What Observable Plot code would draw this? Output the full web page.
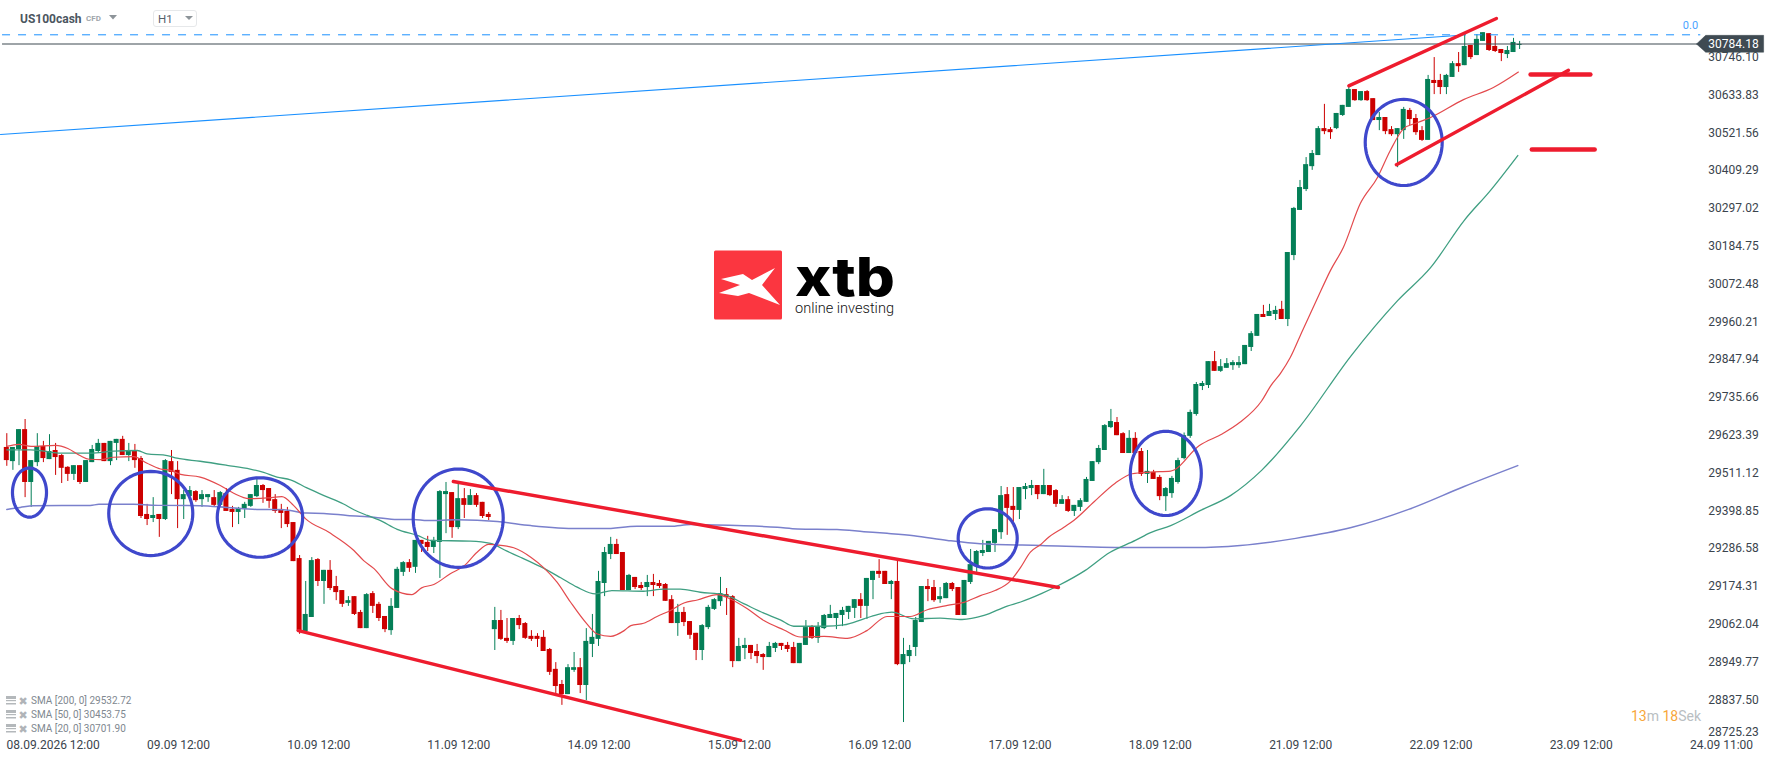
<!DOCTYPE html>
<html><head><meta charset="utf-8">
<script src="https://cdn.jsdelivr.net/npm/d3@7"></script>
<script src="https://cdn.jsdelivr.net/npm/@observablehq/plot@0.6"></script>
<style>
html,body{margin:0;padding:0;background:#fff;font-family:Roboto,sans-serif}
#wrap{position:relative;width:1768px;height:761px;overflow:hidden}
#wrap svg.plot{display:block}
.ov{position:absolute;white-space:nowrap;line-height:1}
.leg{font-size:10px;color:#808890;left:31px}
</style></head><body>
<div id="wrap">
<div class="ov" style="left:20px;top:13px;font-size:12px;font-weight:700;color:#4b5660">US100cash</div>
<div class="ov" style="left:86px;top:15px;font-size:8px;font-weight:700;color:#a0a6ab">CFD</div>
<div class="ov" style="left:153px;top:10px;width:42px;height:15px;border:1px solid #e6e8ea;border-radius:3px"></div>
<div class="ov" style="left:158px;top:14px;font-size:11.5px;color:#56606a">H1</div>
<svg class="ov" style="left:0;top:0" width="1768" height="761" id="deco"></svg>
<div class="ov leg" style="top:696px">SMA [200, 0] 29532.72</div>
<div class="ov leg" style="top:710px">SMA [50, 0] 30453.75</div>
<div class="ov leg" style="top:724px">SMA [20, 0] 30701.90</div>
<div class="ov" style="left:1631px;top:709px;font-size:14px;color:#b9bec2"><span style="color:#f7a63a">13</span>m <span style="color:#f7a63a">18</span>Sek</div>
</div>
<script>
// open, high, low, close per hourly bar
const candles=[
[29587,29628,29531,29548],[29545,29587,29519,29587],[29581,29640,29533,29640],[29640,29670,29438,29483],[29483,29548,29409,29548],
[29542,29628,29530,29590],[29590,29605,29542,29554],[29551,29625,29551,29575],[29578,29599,29504,29557],[29563,29566,29480,29525],
[29528,29530,29486,29507],[29507,29533,29489,29533],[29533,29533,29477,29483],[29483,29548,29483,29548],[29542,29593,29542,29581],
[29575,29611,29569,29599],[29599,29599,29545,29545],[29545,29605,29533,29605],[29599,29611,29548,29611],[29611,29620,29563,29563],
[29563,29599,29545,29578],[29575,29596,29525,29548],[29554,29560,29376,29382],[29388,29418,29355,29373],[29376,29438,29364,29385],
[29388,29388,29320,29373],[29373,29551,29370,29548],[29545,29578,29447,29513],[29519,29545,29346,29432],[29432,29459,29373,29447],
[29441,29471,29441,29459],[29456,29459,29424,29429],[29432,29459,29409,29447],[29438,29447,29424,29447],[29438,29459,29409,29415],
[29415,29456,29412,29453],[29450,29465,29397,29397],[29403,29412,29349,29394],[29394,29409,29358,29406],[29403,29424,29376,29418],
[29412,29447,29409,29447],[29441,29498,29438,29474],[29474,29477,29421,29459],[29465,29465,29406,29427],[29432,29447,29391,29397],
[29403,29418,29346,29391],[29397,29409,29349,29358],[29364,29364,29248,29248],[29257,29266,29032,29040],[29040,29189,29032,29091],
[29082,29260,29082,29251],[29254,29257,29174,29189],[29189,29222,29121,29222],[29222,29251,29162,29168],[29174,29204,29132,29156],
[29162,29162,29112,29121],[29124,29144,29115,29132],[29144,29144,29088,29091],[29097,29103,29049,29049],[29049,29153,29049,29150],
[29153,29159,29094,29115],[29121,29127,29070,29079],[29085,29085,29037,29046],[29043,29138,29029,29115],[29109,29231,29109,29225],
[29216,29248,29204,29245],[29245,29254,29216,29228],[29231,29311,29213,29311],[29311,29311,29275,29299],[29305,29323,29278,29290],
[29290,29320,29272,29311],[29305,29459,29198,29456],[29447,29483,29331,29456],[29453,29453,29317,29349],[29349,29480,29343,29435],
[29435,29465,29376,29415],[29415,29462,29415,29444],[29444,29450,29409,29415],[29424,29424,29376,29382],[29388,29394,29370,29379],
[29046,29112,28984,29073],[29073,29103,29014,29017],[29020,29079,29005,29011],[29011,29079,28999,29079],[29079,29088,29046,29058],
[29064,29067,29017,29020],[29026,29043,29011,29017],[29026,29034,28993,29017],[29023,29043,28981,28981],[28987,28990,28910,28919],
[28928,28948,28856,28877],[28883,28895,28821,28853],[28853,28942,28853,28933],[28925,28978,28919,28933],[28933,28960,28856,28880],
[28880,29049,28835,29011],[29002,29091,28963,29023],[29017,29219,28996,29189],[29183,29290,29144,29275],[29269,29320,29254,29299],
[29299,29314,29269,29269],[29275,29275,29162,29162],[29162,29210,29162,29207],[29201,29201,29165,29171],[29177,29186,29162,29168],
[29171,29207,29144,29186],[29186,29210,29144,29177],[29183,29192,29168,29174],[29180,29183,29130,29130],[29135,29147,29064,29064],
[29064,29121,29026,29097],[29097,29112,29055,29067],[29070,29070,29017,29029],[29035,29035,28954,28984],[28984,29061,28954,29058],
[29052,29118,29046,29112],[29106,29138,29103,29135],[29129,29201,29115,29153],[29150,29168,29088,29141],[29144,29147,28933,28951],
[28951,29020,28951,28996],[28990,29020,28957,28999],[28999,28999,28957,28975],[28981,29002,28945,28966],[28972,28975,28925,28963],
[28963,29008,28963,28996],[28990,29008,28978,29005],[29005,29005,28984,28996],[28999,29008,28978,28987],[28993,29008,28945,28945],
[28945,29005,28945,29005],[28999,29073,28999,29052],[29052,29058,29017,29020],[29020,29067,29005,29055],[29049,29091,29046,29088],
[29079,29118,29079,29091],[29079,29094,29046,29094],[29088,29112,29055,29103],[29097,29115,29076,29115],[29109,29135,29079,29135],
[29135,29153,29079,29115],[29115,29198,29076,29198],[29192,29219,29135,29219],[29219,29254,29198,29210],[29219,29219,29180,29180],
[29180,29192,29135,29189],[29189,29251,28939,28942],[28942,29020,28770,28972],[28966,28999,28948,28984],[28993,29082,28966,29073],
[29067,29174,29067,29174],[29174,29195,29129,29165],[29171,29192,29127,29132],[29135,29171,29124,29144],[29138,29186,29138,29183],
[29183,29186,29159,29165],[29171,29171,29088,29088],[29088,29192,29088,29192],[29186,29284,29180,29239],[29236,29281,29216,29278],
[29272,29311,29263,29281],[29275,29308,29275,29308],[29302,29343,29275,29343],[29334,29471,29314,29444],[29447,29468,29326,29406],
[29412,29468,29350,29400],[29400,29468,29373,29468],[29462,29480,29432,29471],[29465,29489,29444,29474],[29474,29474,29432,29447],
[29447,29522,29447,29474],[29474,29474,29441,29444],[29459,29462,29409,29418],[29418,29444,29418,29432],[29432,29441,29394,29397],
[29397,29415,29382,29415],[29409,29435,29397,29429],[29424,29498,29424,29492],[29486,29545,29486,29545],[29542,29593,29536,29584],
[29578,29655,29578,29652],[29646,29700,29643,29664],[29661,29676,29622,29622],[29628,29631,29569,29569],[29569,29637,29569,29614],
[29614,29631,29569,29569],[29575,29584,29501,29507],[29507,29578,29480,29516],[29513,29519,29492,29492],[29498,29504,29429,29441],
[29441,29468,29397,29465],[29450,29501,29436,29495],[29483,29555,29478,29548],[29554,29630,29550,29622],[29620,29698,29614,29691],
[29685,29780,29680,29774],[29768,29783,29756,29777],[29771,29842,29762,29842],[29842,29872,29813,29813],[29813,29848,29810,29827],
[29822,29851,29822,29836],[29830,29845,29816,29839],[29830,29857,29822,29839],[29833,29890,29833,29890],[29884,29931,29872,29925],
[29917,29982,29917,29982],[29982,30009,29973,29973],[29976,30012,29976,29991],[29982,30006,29964,29994],[29997,30021,29967,29967],
[29967,30166,29946,30166],[30157,30300,30142,30297],[30291,30380,30291,30359],[30353,30448,30347,30427],[30421,30469,30410,30460],
[30454,30540,30454,30534],[30534,30606,30516,30525],[30531,30537,30502,30522],[30534,30579,30531,30579],[30573,30603,30570,30603],
[30597,30659,30597,30650],[30650,30650,30615,30617],[30617,30644,30615,30644],[30644,30647,30615,30617],[30623,30623,30558,30558],
[30558,30582,30528,30567],[30567,30567,30516,30525],[30531,30540,30511,30516],[30516,30534,30418,30534],[30528,30597,30502,30591],
[30588,30594,30543,30561],[30564,30576,30514,30522],[30528,30540,30496,30499],[30499,30692,30499,30680],[30677,30745,30635,30668],
[30677,30695,30635,30656],[30656,30695,30635,30692],[30686,30733,30686,30727],[30727,30760,30701,30718],[30721,30813,30721,30778],
[30781,30781,30739,30745],[30751,30813,30751,30799],[30793,30819,30793,30819],[30816,30816,30763,30766],[30778,30808,30760,30763],
[30769,30769,30733,30757],[30754,30778,30742,30766],[30760,30802,30760,30790],[30781,30793,30769,30784]
];
const sma20=[[0,29590],[2,29596],[4,29590],[8,29593],[10,29584],[12,29563],[13.5,29552],[15.4,29551],[17.5,29558],[20.8,29560],[23,29540],[25.2,29523],[26.8,29519],[28.5,29507],[31.7,29499],[35,29474],[37.2,29451],[39.7,29435],[42.7,29437],[45.1,29441],[47,29415],[49,29375],[52.8,29335],[56.9,29281],[58.5,29251],[60.2,29227],[63.2,29167],[66.4,29150],[68,29170],[70,29180],[72.7,29212],[75,29236],[77.1,29276],[79,29299],[81,29296],[83.1,29289],[85.9,29261],[88,29230],[90.2,29187],[92.4,29128],[95.1,29063],[96.8,29033],[99,29026],[101.2,29043],[102.3,29058],[104.4,29065],[106.6,29085],[108.8,29103],[111,29125],[113.2,29134],[116.5,29150],[118.6,29137],[121.4,29108],[124.1,29073],[127.4,29045],[130.1,29024],[134,29026],[137.8,29020],[141,29043],[144.3,29085],[148.1,29085],[150.9,29105],[154.2,29118],[156.9,29127],[159.6,29147],[162,29162],[164.5,29190],[166.2,29231],[167.8,29276],[169.5,29299],[170.5,29316],[173.3,29350],[174.9,29370],[178.2,29425],[181.7,29481],[184.5,29509],[187.5,29514],[190.8,29517],[195.5,29593],[199.3,29628],[202.1,29661],[205.7,29725],[207.2,29770],[208.8,29807],[210.4,29854],[212.4,29934],[213.7,29985],[214.7,30024],[217,30113],[219.1,30181],[221.9,30312],[224.7,30389],[226.8,30469],[229,30534],[231.3,30552],[233.4,30567],[238.8,30620],[243.7,30656],[247.8,30702]];
const sma50=[[0,29580],[3.9,29580],[6.1,29576],[8.8,29570],[13.7,29570],[17.5,29576],[21.4,29578],[23,29568],[26.3,29563],[27.9,29555],[31.7,29546],[36.1,29534],[39.9,29523],[42.1,29513],[44.3,29499],[46.5,29491],[49.2,29467],[52,29444],[55.2,29419],[56.9,29402],[59.1,29385],[61,29372],[64,29344],[67.3,29326],[69.5,29311],[76,29309],[79.3,29302],[82,29279],[84.2,29261],[87.5,29233],[90.8,29200],[93.5,29172],[96.5,29152],[99.2,29162],[104.4,29160],[107.7,29166],[110.4,29166],[113.7,29157],[117.6,29150],[120.8,29123],[124.1,29095],[126.8,29075],[129,29056],[134,29056],[137.2,29060],[140.5,29078],[143.2,29093],[145.1,29098],[148.7,29078],[153,29080],[156.6,29076],[160.2,29088],[164,29116],[166.2,29128],[169.5,29152],[172.4,29177],[176.8,29222],[180.8,29275],[185,29311],[187.5,29334],[190.8,29355],[195.7,29400],[200.6,29444],[205.7,29519],[212.1,29652],[220.4,29860],[228,30023],[233.4,30121],[238.9,30261],[243.2,30350],[247.7,30454]];
const sma200=[[0,29403],[2.2,29409],[4.4,29414],[13.7,29415],[15.1,29418],[20.8,29418],[25.2,29415],[31.7,29414],[36.1,29409],[41,29403],[45.4,29402],[49.2,29392],[52,29391],[55.8,29385],[60.2,29380],[64,29373],[66.7,29373],[68.9,29370],[73.8,29372],[80.4,29367],[85.9,29355],[93.5,29346],[97.9,29346],[103.3,29353],[108.8,29353],[112.1,29358],[119.7,29355],[126.3,29350],[129.6,29345],[136.1,29343],[140.5,29337],[144.3,29332],[148.7,29325],[154.2,29311],[159.6,29301],[169.5,29296],[183.6,29290],[194.7,29290],[202.2,29296],[211.3,29317],[220.4,29349],[229.8,29403],[238.9,29471],[247.7,29533]];
const priceTicks=[30746.10,30633.83,30521.56,30409.29,30297.02,30184.75,30072.48,29960.21,29847.94,29735.66,29623.39,29511.12,29398.85,29286.58,29174.31,29062.04,28949.77,28837.50];
const lastTick=28725.23;
const dateTicks=[7.6,28.15,51.15,74.1,97.1,120.1,143.1,166.1,189.1,212.1,235.1,258.1,281.1];
const dateLabels=["08.09.2026 12:00","09.09 12:00","10.09 12:00","11.09 12:00","14.09 12:00","15.09 12:00","16.09 12:00","17.09 12:00","18.09 12:00","21.09 12:00","22.09 12:00","23.09 12:00","24.09 11:00"];
// drawn annotations, in bar index and price
const redLines=[[73.2,29486,172.4,29171],[47.8,29043,120.3,28717],[220,30661,244.2,30861],[227.8,30427,256,30707]];
const redLevels=[[249.8,259.6,30695],[250,260.3,30472]];
const circles=[[3.72,29453,2.79,73],[23.6,29391,6.89,125],[41.5,29379,7,118],[74,29377,7.38,146],[160.8,29317,4.84,88],[190,29510,5.82,125],[229,30493,6.31,128]];
const fibLine=[[-1.03,30516.5],[237.8,30810.5]];
const fibLevel=30812.6, lastPrice=30785.3, dateRow=28703.4;

const GREEN="#047f57",RED="#cc0000",INK="#3a444d",ANNO="#ee1c2e",BLUE="#3f48cc",FIB="#1a90ff",TAG="#3f4a52";
const bars=candles.map(([o,h,l,c],i)=>({i,o,h,l,c,col:c>=o?GREEN:RED}));
const ellipse=([cx,cy,rx,ry],k)=>d3.range(0,73).map(a=>({k,x:cx+rx*Math.cos(a*Math.PI/36),y:cy+ry*Math.sin(a*Math.PI/36)}));
const rows=a=>a.map(([x,y])=>({x,y}));
const xEnd=287.2, xStart=-0.7, xFibEnd=277.7, xTag=[277,278.5,288];

const chart=Plot.plot({
  width:1768,height:761,marginTop:0,marginRight:0,marginBottom:0,marginLeft:0,
  style:{background:"#fff",fontFamily:"Roboto,sans-serif"},
  x:{axis:null,domain:[-1.033,288.8],range:[0,1768]},
  y:{axis:null,domain:[28654.3,30914.5],range:[761,0]},
  marks:[
    Plot.ruleX(bars,{x:"i",y1:"l",y2:"h",stroke:"col",strokeWidth:1}),
    Plot.rect(bars,{x1:d=>d.i-0.41,x2:d=>d.i+0.41,y1:"o",y2:"c",fill:"col"}),
    Plot.line(rows(sma200),{x:"x",y:"y",stroke:"#7a80cc",strokeWidth:1.5,curve:"monotone-x"}),
    Plot.line(rows(sma50),{x:"x",y:"y",stroke:"#3f9f82",strokeWidth:1.3,curve:"monotone-x"}),
    Plot.line(rows(sma20),{x:"x",y:"y",stroke:"#e34a4d",strokeWidth:1.2,curve:"monotone-x"}),
    Plot.ruleY([lastPrice],{x1:xStart,x2:xFibEnd,stroke:TAG,strokeWidth:1.1}),
    Plot.ruleY([fibLevel],{x1:xStart,x2:xFibEnd,stroke:FIB,strokeWidth:1,strokeDasharray:"8,8"}),
    Plot.line(rows(fibLine),{x:"x",y:"y",stroke:FIB,strokeWidth:1.1}),
    Plot.text(["0.0"],{x:xFibEnd-1.7,y:fibLevel,dy:-9,text:d=>d,fill:"#4aa3ff",fontSize:11}),
    ...circles.map((c,k)=>Plot.line(ellipse(c,k),{x:"x",y:"y",stroke:BLUE,strokeWidth:3.2})),
    ...redLines.map(([x1,y1,x2,y2])=>Plot.line([{x:x1,y:y1},{x:x2,y:y2}],{x:"x",y:"y",stroke:ANNO,strokeWidth:3.4})),
    ...redLevels.map(([x1,x2,y])=>Plot.line([{x:x1,y},{x:x2,y}],{x:"x",y:"y",stroke:ANNO,strokeWidth:4.5,strokeLinecap:"round"})),
    Plot.text(priceTicks,{x:xEnd,y:d=>d,text:d=>d.toFixed(2),textAnchor:"end",fill:INK,fontSize:12}),
    Plot.text([lastTick],{x:xEnd,y:d=>d,dy:-5,text:d=>d.toFixed(2),textAnchor:"end",fill:INK,fontSize:12}),
    Plot.text(dateTicks,{x:d=>d,y:dateRow,text:(d,i)=>dateLabels[i],fill:INK,fontSize:12}),
    Plot.line([{x:xTag[0],y:lastPrice},{x:xTag[1],y:30811},{x:xTag[2],y:30811},{x:xTag[2],y:30761},{x:xTag[1],y:30761},{x:xTag[0],y:lastPrice}],{x:"x",y:"y",fill:TAG,stroke:TAG,strokeWidth:0.5}),
    Plot.text([30784.18],{x:xEnd,y:lastPrice,text:d=>d.toFixed(2),textAnchor:"end",fill:"#fff",fontSize:12})
  ]
});
document.getElementById("wrap").prepend(chart);

// brand logo and small interface icons
const deco=d3.select("#deco");
deco.append("rect").attr("x",714).attr("y",250.5).attr("width",68).attr("height",69).attr("rx",1.5).attr("fill","#fb3640");
deco.append("path").attr("fill","#fff").attr("d","M721,279L743,274L752,280L775,268L762,285L780,305L749,293L738,296L719,293L740,285Z");
deco.append("text").attr("x",795).attr("y",296).attr("font-family","Inter,Roboto,sans-serif").attr("font-weight",800).attr("font-size",54).attr("textLength",100).attr("lengthAdjust","spacingAndGlyphs").attr("fill","#000").text("xtb");
deco.append("text").attr("x",795).attr("y",313).attr("font-family","Roboto,sans-serif").attr("font-weight",300).attr("font-size",14.5).attr("textLength",99).attr("lengthAdjust","spacingAndGlyphs").attr("fill","#111").text("online investing");
[[109,15,117,15,113,19.5],[185,16,193,16,189,20]].forEach(t=>deco.append("path").attr("fill","#8d9499").attr("d",`M${t[0]},${t[1]}L${t[2]},${t[3]}L${t[4]},${t[5]}Z`));
[701,715,729].forEach(cy=>{
  const g=deco.append("g");
  g.append("rect").attr("x",6).attr("y",cy-5).attr("width",10).attr("height",3).attr("fill","#b4b8bb");
  g.append("rect").attr("x",6).attr("y",cy-1).attr("width",10).attr("height",1.2).attr("fill","#b4b8bb");
  g.append("rect").attr("x",6).attr("y",cy+2).attr("width",10).attr("height",1.5).attr("fill","#b4b8bb");
  g.append("text").attr("x",18.5).attr("y",cy+3.5).attr("font-size",11).attr("font-family","DejaVu Sans").attr("fill","#b0b4b8").text("✖");
});
</script>
</body></html>
